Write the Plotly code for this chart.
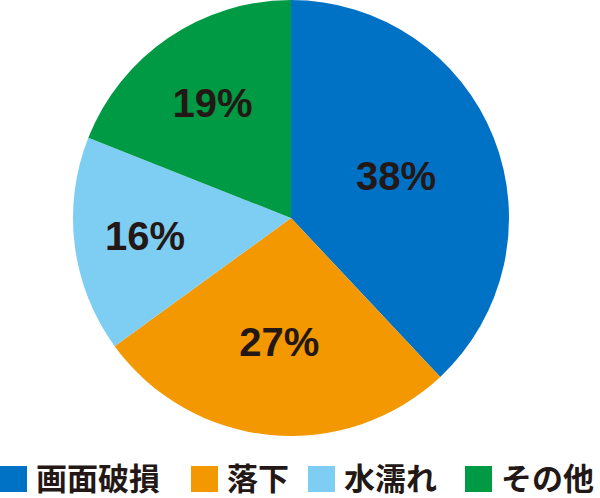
import plotly.graph_objects as go

categories = ["画面破損", "落下", "水濡れ", "その他"]
values = [38, 27, 16, 19]
colors = ["#0072c6", "#f39800", "#7ecef4", "#009944"]

W, H = 600, 498

fig = go.Figure()
fig.add_trace(go.Pie(
    labels=categories,
    values=values,
    sort=False,
    direction="clockwise",
    rotation=0,
    marker=dict(colors=colors, line=dict(width=0)),
    texttemplate="%{value}%",
    textposition="inside",
    insidetextorientation="horizontal",
    textfont=dict(family="Liberation Sans, Arial", size=40, color="#231815", weight="bold"),
    domain=dict(x=[73 / W, 509 / W], y=[1 - 436 / H, 1]),
    showlegend=False,
    hoverinfo="label+percent",
))

# custom legend with large square swatches
sq_x = [0, 191, 308, 465]
shapes = []
annotations = []
for i, (cat, col) in enumerate(zip(categories, colors)):
    x0 = sq_x[i]
    shapes.append(dict(type="rect", xref="paper", yref="paper",
                       x0=x0 / W, x1=(x0 + 27) / W,
                       y0=1 - 492 / H, y1=1 - 466 / H,
                       fillcolor=col, line=dict(width=0)))
    annotations.append(dict(text=cat, xref="paper", yref="paper",
                            x=(x0 + 35) / W, y=1 - 476 / H,
                            xanchor="left", yanchor="middle", showarrow=False,
                            borderpad=0,
                            font=dict(family="Noto Sans CJK JP", size=31,
                                      color="#231815", weight="bold")))

fig.update_layout(
    width=W, height=H,
    margin=dict(l=0, r=0, t=0, b=0),
    paper_bgcolor="white",
    plot_bgcolor="white",
    shapes=shapes,
    annotations=annotations,
)

fig.write_html("out.html", config={"displayModeBar": False},
               post_script="document.body.style.margin='0';document.body.style.overflow='hidden';")
